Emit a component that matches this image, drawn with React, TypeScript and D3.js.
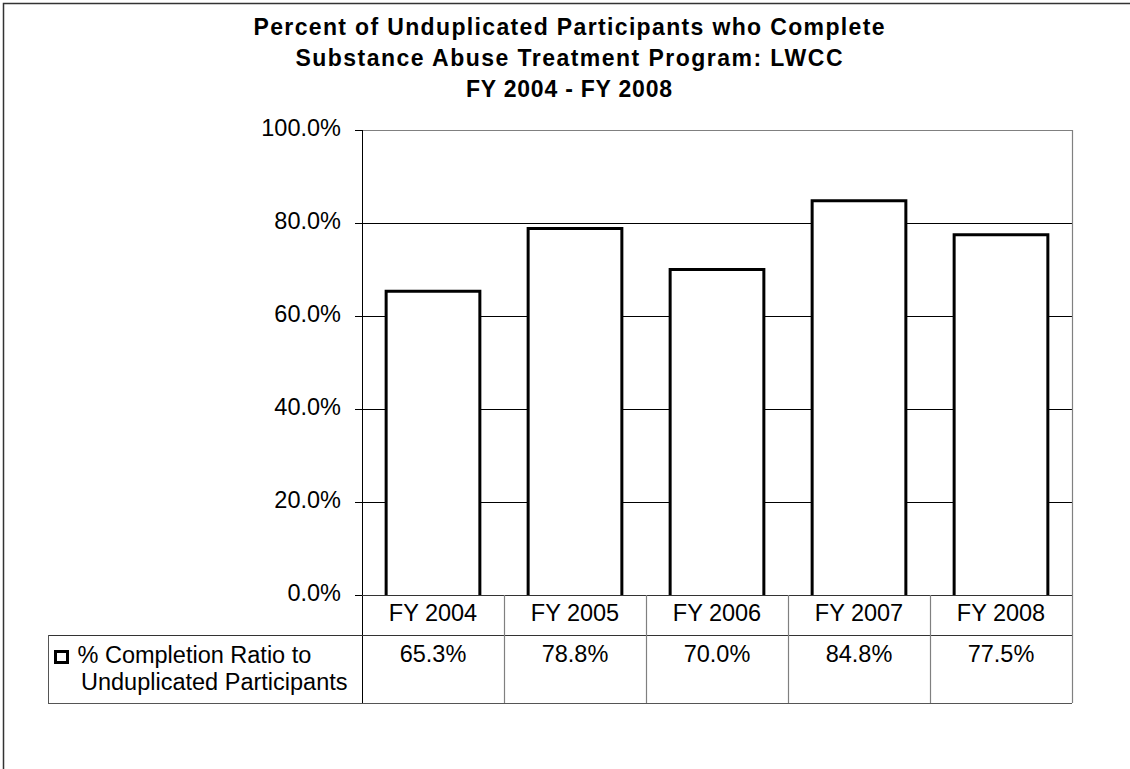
import React from "react";
import * as d3 from "d3";

// Chart data
const categories = ["FY 2004", "FY 2005", "FY 2006", "FY 2007", "FY 2008"];
const completion = [0.653, 0.788, 0.7, 0.848, 0.775];
const yTicks = [0, 0.2, 0.4, 0.6, 0.8, 1.0];
const titleLines = [
  "Percent of Unduplicated Participants who Complete",
  "Substance Abuse Treatment Program: LWCC",
  "FY 2004 - FY 2008",
];
const seriesLabel = ["% Completion Ratio to", "Unduplicated Participants"];

const W = 1130;
const H = 769;
const plot = { left: 362, right: 1072, top: 130, bottom: 595 };
const tableRow1 = 635;
const tableBottom = 703;
const legendLeft = 48;
const FONT = "'Liberation Sans', Arial, sans-serif";
const FS = 23.5;

export default function App() {
  const xCell = d3
    .scaleBand<string>()
    .domain(categories)
    .range([plot.left, plot.right])
    .padding(0);
  const xBar = d3
    .scaleBand<string>()
    .domain(categories)
    .range([plot.left, plot.right])
    .paddingInner(0.34)
    .paddingOuter(0.17);
  const y = d3.scaleLinear().domain([0, 1]).range([plot.bottom, plot.top]);
  const pct = d3.format(".1%");

  const barPath = (c: string, v: number) => {
    const p = d3.path();
    const x0 = xBar(c)!;
    const x1 = x0 + xBar.bandwidth();
    p.moveTo(x0, y(0));
    p.lineTo(x0, y(v));
    p.lineTo(x1, y(v));
    p.lineTo(x1, y(0));
    return p.toString();
  };

  const px = (v: number) => Math.round(v) + 0.5;
  const titleWidths = [631, 547, 206];

  return (
    <svg
      width={W}
      height={H}
      style={{ position: "absolute", left: 0, top: 0, background: "#fff" }}
      fontFamily={FONT}
    >
      <rect x={0} y={0} width={W} height={H} fill="#fff" />
      {/* chart frame */}
      <rect
        x={3.5}
        y={3.5}
        width={W + 20}
        height={H + 20}
        fill="none"
        stroke="#333"
        strokeWidth={1.5}
      />

      {/* title */}
      {titleLines.map((t, i) => (
        <text
          key={t}
          x={569}
          y={34.5 + i * 31}
          textAnchor="middle"
          fontSize={23}
          fontWeight="bold"
          textLength={titleWidths[i]}
          lengthAdjust="spacing"
          fill="#000"
        >
          {t}
        </text>
      ))}

      {/* gridlines */}
      {yTicks
        .filter((t) => t > 0 && t < 1)
        .map((t) => (
          <line
            key={t}
            x1={plot.left}
            x2={plot.right}
            y1={px(y(t))}
            y2={px(y(t))}
            stroke="#000"
            strokeWidth={1}
          />
        ))}
      {/* plot frame top/right */}
      <line
        x1={plot.left}
        x2={plot.right}
        y1={px(plot.top)}
        y2={px(plot.top)}
        stroke="#808080"
        strokeWidth={1}
      />
      <line
        x1={px(plot.right)}
        x2={px(plot.right)}
        y1={plot.top}
        y2={tableBottom}
        stroke="#808080"
        strokeWidth={1.2}
      />

      {/* bars */}
      {categories.map((c, i) => (
        <path
          key={c}
          d={barPath(c, completion[i])}
          fill="#fff"
          stroke="#000"
          strokeWidth={3}
          strokeLinejoin="miter"
        />
      ))}

      {/* y axis */}
      <line
        x1={px(plot.left)}
        x2={px(plot.left)}
        y1={plot.top}
        y2={tableBottom}
        stroke="#000"
        strokeWidth={1}
      />
      {yTicks.map((t) => (
        <g key={t}>
          <line
            x1={plot.left - 7}
            x2={plot.left}
            y1={px(y(t))}
            y2={px(y(t))}
            stroke="#000"
          />
          <text
            x={341}
            y={y(t) + 5.5}
            textAnchor="end"
            fontSize={FS}
            fill="#000"
          >
            {pct(t)}
          </text>
        </g>
      ))}

      {/* data table */}
      <line
        x1={plot.left}
        x2={plot.right}
        y1={px(plot.bottom)}
        y2={px(plot.bottom)}
        stroke="#333"
      />
      <line
        x1={legendLeft}
        x2={plot.right}
        y1={px(tableRow1)}
        y2={px(tableRow1)}
        stroke="#333"
      />
      <line
        x1={legendLeft}
        x2={plot.right}
        y1={px(tableBottom)}
        y2={px(tableBottom)}
        stroke="#555"
        strokeWidth={1.2}
      />
      <line
        x1={px(legendLeft)}
        x2={px(legendLeft)}
        y1={tableRow1}
        y2={tableBottom}
        stroke="#555"
      />
      {categories.slice(1).map((c) => (
        <line
          key={c}
          x1={px(xCell(c)!)}
          x2={px(xCell(c)!)}
          y1={plot.bottom}
          y2={tableBottom}
          stroke="#808080"
          strokeWidth={1.2}
        />
      ))}
      {categories.map((c, i) => (
        <g key={c}>
          <text
            x={xCell(c)! + xCell.bandwidth() / 2}
            y={621}
            textAnchor="middle"
            fontSize={FS}
            fill="#000"
          >
            {c}
          </text>
          <text
            x={xCell(c)! + xCell.bandwidth() / 2}
            y={662}
            textAnchor="middle"
            fontSize={FS}
            fill="#000"
          >
            {pct(completion[i])}
          </text>
        </g>
      ))}

      {/* legend key and series label */}
      <rect
        x={55.5}
        y={651.5}
        width={12}
        height={11}
        fill="#fff"
        stroke="#000"
        strokeWidth={3}
      />
      <text x={77.5} y={663} fontSize={FS} fill="#000">
        {seriesLabel[0]}
      </text>
      <text x={81} y={690} fontSize={FS} fill="#000">
        {seriesLabel[1]}
      </text>
    </svg>
  );
}
